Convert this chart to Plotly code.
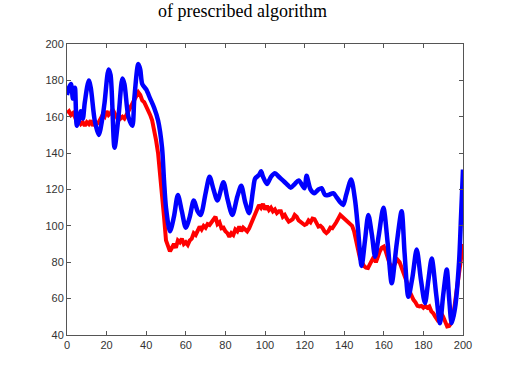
import plotly.graph_objects as go

blue_x = [0, 1, 2, 3, 4, 5, 6, 7, 8, 9, 11, 12, 14, 16, 18, 19, 21, 22, 24, 26, 28, 29, 31, 33, 34, 36, 37, 38,
          40, 42, 44, 46, 48, 49, 50, 52, 54, 56, 58, 60, 62, 64, 66, 67.5, 70, 72, 74, 76, 79, 81, 83.5, 86,
          88, 90, 92, 94, 95, 97, 98, 99, 101, 103, 105, 107, 109, 111, 113, 115, 117, 119, 120, 121, 123, 125,
          127, 128.6, 130.3, 132, 134.5, 136, 138, 139.5, 141, 143.5, 145.5, 147, 148.8, 150.5, 152.2, 154,
          155.6, 157.5, 159.8, 162, 164, 166.5, 169, 170.5, 172.4, 174.5, 176.6, 178.8, 180.8, 182.5, 184.2,
          186.5, 188.4, 190, 191.8, 193, 194.3, 196, 198, 199, 200]
blue_y = [172, 176, 178, 170, 176, 155, 158, 163, 159, 168, 180, 176, 158, 150, 160, 168, 186, 183, 143, 160, 181,
          178, 160, 155, 170, 189, 186, 178, 175, 170, 165, 158, 143, 125, 110, 97, 105, 117, 108, 99, 105, 114,
          108, 106, 118, 127, 120, 114, 124, 115, 106, 116, 122, 113, 107, 120, 126, 128, 130, 127, 123, 127, 129,
          127, 125, 123, 121, 123, 125, 122, 120.7, 127.5, 120, 118, 120, 120.7, 117, 117, 118, 116, 113, 111.5,
          117, 125.5, 114, 98, 78, 92, 106, 95, 83, 95, 110, 90, 68.5, 90, 108, 85, 61, 72, 87, 70, 57.5, 70,
          82, 62, 46.5, 62, 76, 60, 46.5, 55, 80, 105, 131]

red_x = list(range(0, 201))
red_y = [162, 163, 161, 162, 160, 157, 158, 156, 157, 155, 157, 156, 158, 155, 157, 156, 157, 159, 161, 160,
         163, 161, 162, 164, 162, 160, 161, 159, 160, 159, 161, 163, 165, 167, 170, 172, 173.5, 172, 169, 168,
         166, 164, 161, 158, 153, 147, 140, 130, 120, 105, 92, 89, 86, 88, 90, 88, 92, 91, 93, 90,
         91, 89.6, 92, 93, 96, 95, 98, 99.6, 98, 100, 99, 101, 100.5, 102, 104, 105, 101, 102, 98.7, 99,
         97, 96, 94, 96, 95, 98, 97, 99.6, 97, 99, 98, 97, 98.7, 101, 104, 106, 109, 111.5, 110, 112,
         109, 111, 108.8, 110, 108, 109, 107, 108, 108, 105, 106, 104, 102.4, 103, 103.7, 106, 105, 103, 102, 101.5,
         100.5, 101, 103, 102, 104, 103.7, 101, 99.6, 100, 99, 97, 96, 97, 99, 98.7, 100, 102, 104, 106, 105,
         104, 103, 102.4, 101.5, 100, 97, 93, 87, 82, 79.5, 78, 77, 76.8, 79, 81, 83, 80, 84, 86, 88,
         88.6, 86, 82, 79, 77.6, 78, 80, 81.3, 80, 77, 74, 72.1, 68, 64, 61, 59.3, 58, 56, 55.7, 56,
         55, 56, 55, 55.7, 53, 52, 50, 48.4, 50, 52, 50, 47, 44.7, 45, 46.5, 50, 58, 66, 73, 82,
         90]

x_ticks = [0, 20, 40, 60, 80, 100, 120, 140, 160, 180, 200]
y_ticks = [40, 60, 80, 100, 120, 140, 160, 180, 200]
title_text = "of prescribed algorithm"

fig = go.Figure()
fig.add_trace(go.Scatter(x=red_x, y=red_y, mode="lines",
                         line=dict(color="#ff0000", width=4), showlegend=False))
fig.add_trace(go.Scatter(x=blue_x, y=blue_y, mode="lines",
                         line=dict(color="#0000ff", width=4.5, shape="spline", smoothing=0.8),
                         showlegend=False))

axis_common = dict(showgrid=False, zeroline=False, showline=True, linecolor="#555555", linewidth=1,
                   mirror="ticks", ticks="inside", ticklen=4, tickcolor="#555555",
                   tickfont=dict(family="Liberation Sans, Arial", size=11, color="#333333"))
fig.update_xaxes(range=[0, 200], tickvals=x_ticks, **axis_common)
fig.update_yaxes(range=[40, 200], tickvals=y_ticks, **axis_common)

fig.add_annotation(text=title_text, xref="paper", yref="paper", x=0.443, y=1.114,
                   xanchor="center", yanchor="middle", showarrow=False,
                   font=dict(family="Liberation Serif, Times New Roman", size=18, color="#000000"))

fig.update_layout(width=511, height=373, margin=dict(l=67, r=48, t=44, b=38),
                  plot_bgcolor="white", paper_bgcolor="white")

fig.write_html("out.html", config={"displayModeBar": False},
               post_script="document.body.style.margin='0';document.body.style.padding='0';")
